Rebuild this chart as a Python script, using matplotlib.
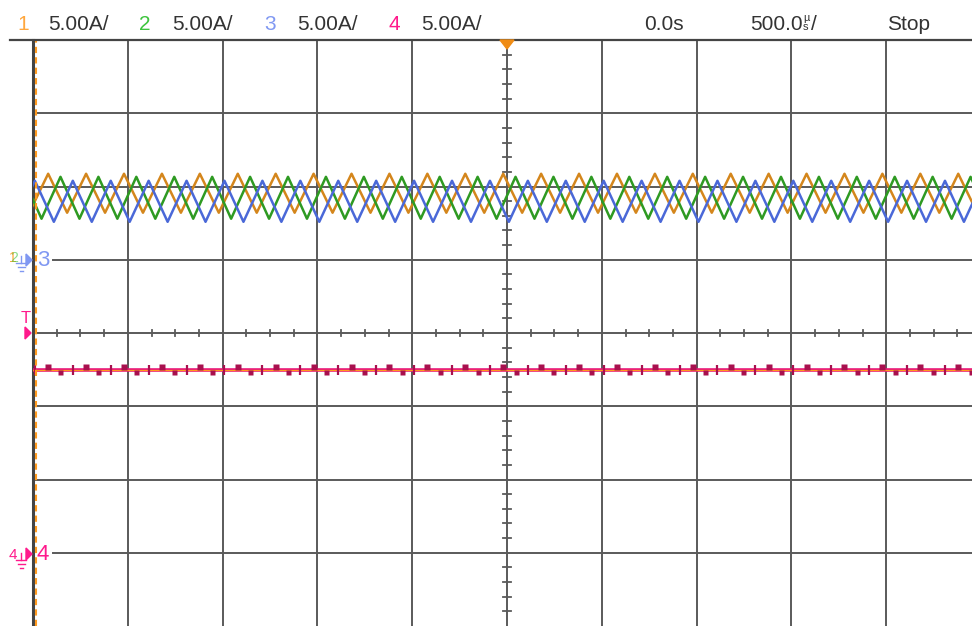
import matplotlib
matplotlib.use("Agg")
import matplotlib.pyplot as plt
from matplotlib.patches import Polygon

plt.rcParams['lines.scale_dashes'] = False
plt.rcParams['font.family'] = ['Liberation Sans', 'DejaVu Sans']

# scope header
ch_names = ["1", "2", "3", "4"]
ch_scales = ["5.00A/", "5.00A/", "5.00A/", "5.00A/"]
trig_time = "0.0s"
timebase = "500.0"
run_state = "Stop"

amps_per_div = 5.0
us_per_div = 500.0
ground_div = [1.0, 1.0, 1.0, -3.0]   # ground markers, div from centre

# ch1 (orange) triangle current, times in us, levels in A
ch1_peak_t = [-2420, -2220, -2020, -1820, -1620, -1420, -1220, -1020, -820, -620,
              -420, -220, -20, 180, 380, 580, 780, 980, 1180, 1380, 1580, 1780,
              1980, 2180, 2380]
ch1_trough_t = [-2520, -2320, -2120, -1920, -1720, -1520, -1320, -1120, -920, -720,
                -520, -320, -120, 80, 280, 480, 680, 880, 1080, 1280, 1480, 1680,
                1880, 2080, 2280, 2480]
ch1_hi, ch1_lo = 5.87, 3.21

# ch2 (green)
ch2_peak_t = [-2555, -2355, -2155, -1955, -1755, -1555, -1355, -1155, -955, -755,
              -555, -355, -155, 45, 245, 445, 645, 845, 1045, 1245, 1445, 1645,
              1845, 2045, 2245, 2445]
ch2_trough_t = [-2455, -2255, -2055, -1855, -1655, -1455, -1255, -1055, -855, -655,
                -455, -255, -55, 145, 345, 545, 745, 945, 1145, 1345, 1545, 1745,
                1945, 2145, 2345, 2545]
ch2_hi, ch2_lo = 5.66, 2.80

# ch3 (blue)
ch3_peak_t = [-2490, -2290, -2090, -1890, -1690, -1490, -1290, -1090, -890, -690,
              -490, -290, -90, 110, 310, 510, 710, 910, 1110, 1310, 1510, 1710,
              1910, 2110, 2310, 2510]
ch3_trough_t = [-2590, -2390, -2190, -1990, -1790, -1590, -1390, -1190, -990, -790,
                -590, -390, -190, 10, 210, 410, 610, 810, 1010, 1210, 1410, 1610,
                1810, 2010, 2210, 2410]
ch3_hi, ch3_lo = 5.39, 2.59

# ch4 (pink) flat current
ch4_level = 12.5

hdr_cols = ['#FFA73D', '#3DC43D', '#8098F2', '#FF1A8C']
trace_cols = ['#D4861C', '#2E9A22', '#4A68D8', '#E8157A']
grid_c = '#5A5A5A'
txt_c = '#333333'

W, H = 972, 626
x0, ytop = 33, 40
px_div_x = 94.8
px_div_y = 73.25

fig = plt.figure(figsize=(W / 100, H / 100), dpi=100)
t_left = -2500
t_right = t_left + (W - x0) / px_div_x * us_per_div
ax = fig.add_axes([x0 / W, 0, (W - x0) / W, (H - ytop) / H])
ax.set_xlim(t_left, t_right)
ax.set_ylim(-4, 4)
ax.axis('off')

# graticule
for t in range(-2000, 2500, 500):
    ax.axvline(t, color=grid_c, lw=1.4, zorder=1)
for d in range(-3, 4):
    if d in (1, -3):
        ax.plot([t_left + 20 / px_div_x * us_per_div, t_right], [d, d], color=grid_c, lw=1.4, zorder=1)
    else:
        ax.axhline(d, color=grid_c, lw=1.4, zorder=1)
ax.axvline(t_left, color='#444444', lw=2.2, zorder=2, clip_on=False)

# minor ticks on centre lines
tk = t_left
while tk < t_right:
    if (tk - t_left) % 500 != 0:
        ax.plot([tk, tk], [-3 / px_div_y, 3 / px_div_y], color=grid_c, lw=1.3, zorder=1)
    tk += 125
d = -4.0
while d < 4.0:
    if abs(d - round(d)) > 1e-6:
        hw = 4 / px_div_x * us_per_div
        ax.plot([-hw, hw], [d, d], color=grid_c, lw=1.3, zorder=1)
    d += 0.2


def tri(peaks, troughs, hi, lo):
    pts = sorted([(t, hi) for t in peaks] + [(t, lo) for t in troughs])
    return [p[0] for p in pts], [p[1] for p in pts]


for i, (pk, tr, hi, lo) in enumerate([(ch1_peak_t, ch1_trough_t, ch1_hi, ch1_lo),
                                      (ch2_peak_t, ch2_trough_t, ch2_hi, ch2_lo),
                                      (ch3_peak_t, ch3_trough_t, ch3_hi, ch3_lo)]):
    tt, aa = tri(pk, tr, hi, lo)
    yy = [ground_div[i] + a / amps_per_div for a in aa]
    ax.plot(tt, yy, color=trace_cols[i], lw=1.8, zorder=3 + i * 0.1)

# ch4 line with switching glitches
y4 = ground_div[3] + ch4_level / amps_per_div
ax.plot([t_left, t_right], [y4, y4], color=trace_cols[3], lw=2.6, zorder=4)
ax.plot([t_left, t_right], [y4, y4], color='#FF9A1E', lw=0.9, zorder=4.1)
ax.plot(ch1_peak_t, [y4 + 2.5 / px_div_y] * len(ch1_peak_t), 's', ms=4,
        color='#A8104E', mec='none', zorder=4.2)
ax.plot(ch2_peak_t, [y4 - 2.0 / px_div_y] * len(ch2_peak_t), 's', ms=3.6,
        color='#A8104E', mec='none', zorder=4.2)
ax.plot(ch3_peak_t, [y4] * len(ch3_peak_t), '|', ms=7, mew=1.6,
        color='#A8104E', zorder=4.2)

# cursor / trigger position line
ax.axvline(t_left + 2.5 / px_div_x * us_per_div, color='#FF9A1E', lw=1.5,
           dashes=(4.5, 3), zorder=5, clip_on=False)

# overlay in pixel coords for header and markers
ov = fig.add_axes([0, 0, 1, 1], zorder=5)
ov.set_xlim(0, W)
ov.set_ylim(H, 0)
ov.axis('off')
ov.patch.set_alpha(0)

ov.plot([10, W], [ytop, ytop], color='#444444', lw=1.6)

hx = [(17, 48), (139, 172), (264, 297), (388, 421)]
for i in range(4):
    ov.text(hx[i][0], 30, ch_names[i], color=hdr_cols[i], fontsize=15, va='baseline')
    ov.text(hx[i][1], 30, ch_scales[i], color=txt_c, fontsize=15, va='baseline')
ov.text(644, 30, trig_time, color=txt_c, fontsize=15, va='baseline')
ov.text(750, 30, timebase, color=txt_c, fontsize=15, va='baseline')
ov.text(803, 21, "\u00b5", color=txt_c, fontsize=8, va='baseline')
ov.text(803, 30, "s", color=txt_c, fontsize=8, va='baseline')
ov.text(811, 30, "/", color=txt_c, fontsize=15, va='baseline')
ov.text(887, 30, run_state, color=txt_c, fontsize=15, va='baseline')

# trigger time marker
ov.add_patch(Polygon([[500, ytop], [514, ytop], [507, ytop + 9]], closed=True,
                     color='#F08C14', zorder=6))

# trigger level marker
ov.text(26, 323, "T", color=hdr_cols[3], fontsize=12, ha='center', va='baseline')
ov.add_patch(Polygon([[25, 327], [25, 339], [31, 333]], closed=True, color=hdr_cols[3]))


def gnd(x, y, col):
    ov.plot([x, x], [y - 4, y + 3], color=col, lw=1.0)
    for dy, hw in [(3, 5), (7, 3.5), (11, 1.5)]:
        ov.plot([x - hw, x + hw], [y + dy, y + dy], color=col, lw=1.0)


# ch1/2/3 ground markers
y3 = 260
gnd(21, y3, hdr_cols[2])
ov.text(13, y3 + 2, "1", color=hdr_cols[0], fontsize=10, ha='center', va='baseline')
ov.text(14, y3 + 2, "2", color=hdr_cols[1], fontsize=10, ha='center', va='baseline', alpha=0.6)
ov.add_patch(Polygon([[26, y3 - 6], [26, y3 + 6], [32, y3]], closed=True, color=hdr_cols[2]))
ov.text(43, y3, "3", color=hdr_cols[2], fontsize=16, ha='center', va='center')

# ch4 ground marker
y4p = 555
gnd(21, y4p + 2, hdr_cols[3])
ov.text(13, y4p + 4, "4", color=hdr_cols[3], fontsize=11, ha='center', va='baseline')
ov.add_patch(Polygon([[26, y4p - 7], [26, y4p + 5], [32, y4p - 1]], closed=True, color=hdr_cols[3]))
ov.text(43, y4p, "4", color=hdr_cols[3], fontsize=16, ha='center', va='center')

fig.savefig("out.png", dpi=100)
